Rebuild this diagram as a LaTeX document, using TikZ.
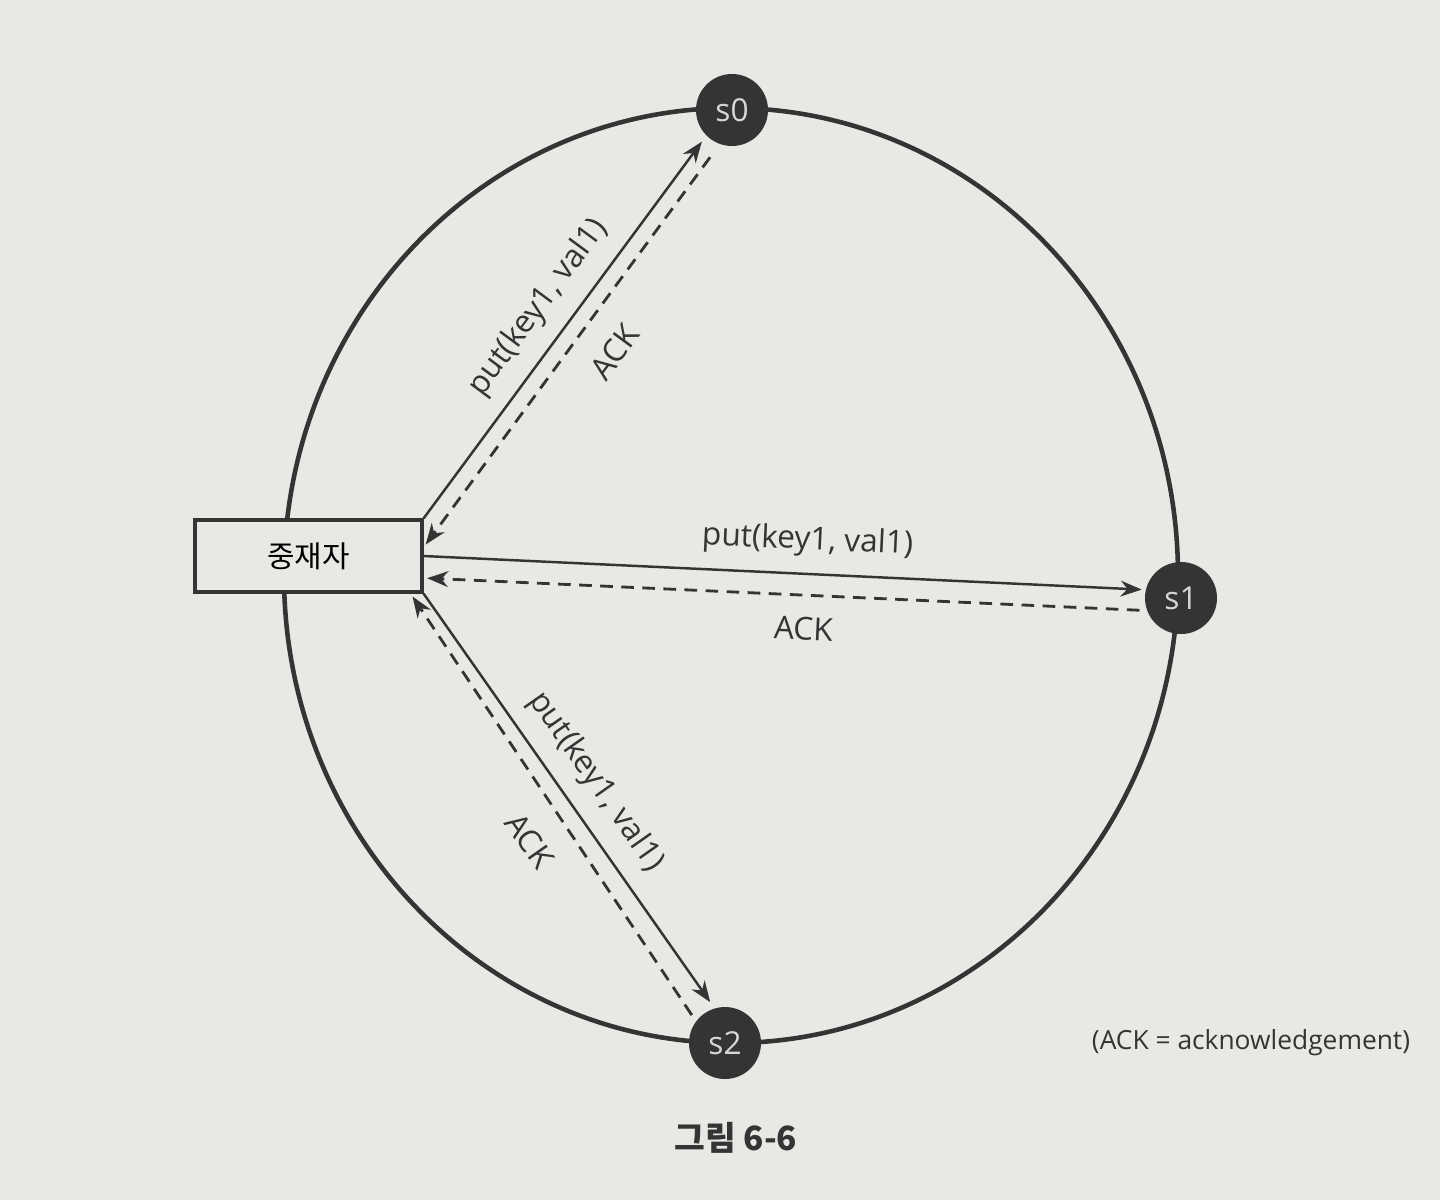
\documentclass[tikz,border=0pt]{standalone}
\usepackage{fontspec}
\setmainfont{Open Sans}
\newfontfamily\cjk{Noto Sans CJK KR}
\usetikzlibrary{arrows.meta}

\definecolor{paper}{RGB}{232,232,228}
\definecolor{ink}{RGB}{52,52,52}
\definecolor{nodetext}{RGB}{215,215,215}

\tikzset{
  server/.style={circle, fill=ink, text=nodetext, minimum size=0.72cm, inner sep=0pt,
    font=\fontsize{9}{10}\selectfont},
  mediator/.style={draw=ink, line width=0.9pt, fill=paper, minimum width=2.27cm,
    minimum height=0.72cm, font=\cjk\fontsize{8.5}{9}\selectfont},
  req/.style={draw=ink, line width=0.7pt, -{Stealth[length=6pt,width=4.5pt]}},
  ack/.style={req, line width=0.8pt, dash pattern=on 3.6pt off 2.4pt},
  lbl/.style={sloped, inner sep=1pt, text=ink, font=\fontsize{9}{10}\selectfont},
}

\begin{document}
\begin{tikzpicture}
  \fill[paper] (0,0) rectangle (14.4,-12);
  \useasboundingbox (0,0) rectangle (14.4,-12);

  % ring
  \draw[ink, line width=1.3pt] (7.31,-5.755) ellipse [x radius=4.47cm, y radius=4.675cm];

  \node[mediator] (coord) at (3.085,-5.56) {중재자};
  \node[server] (s0) at (7.32,-1.10) {s0};
  \node[server] (s1) at (11.81,-5.98) {s1};
  \node[server] (s2) at (7.25,-10.43) {s2};

  % s0
  \draw[req, shorten >=2pt] (coord.north east) -- (s0.south west)
    node[lbl, pos=0.5, above=3.5pt] {put(key1, val1)}
    node[lbl, pos=0.52, below=11pt] {ACK};
  \draw[ack, shorten <=4.5pt, shorten >=1pt] (s0.-110) -- ([yshift=-0.29cm]coord.north east);

  % s1
  \draw[req, shorten >=1pt] (coord.east) -- (s1.167)
    node[lbl, pos=0.53, above=3.5pt] {put(key1, val1)}
    node[lbl, pos=0.53, below=11pt] {ACK};
  \draw[ack, shorten <=2pt, shorten >=1pt] (s1.200) -- ([yshift=-0.22cm]coord.east);

  % s2
  \draw[req, shorten >=2pt] (coord.south east) -- (s2.107)
    node[lbl, pos=0.5, above=3.5pt] {put(key1, val1)}
    node[lbl, pos=0.52, below=11pt] {ACK};
  \draw[ack, shorten <=2pt, shorten >=1pt] (s2.143) -- ([xshift=-0.13cm]coord.south east);

  \node[text=ink, font=\fontsize{7.5}{9}\selectfont] (note) at (12.51,-10.43) {(ACK = acknowledgement)};
  \node[text=ink, font=\cjk\bfseries\fontsize{9.5}{11}\selectfont] (fig) at (7.36,-11.38) {그림 6-6};
\end{tikzpicture}
\end{document}
